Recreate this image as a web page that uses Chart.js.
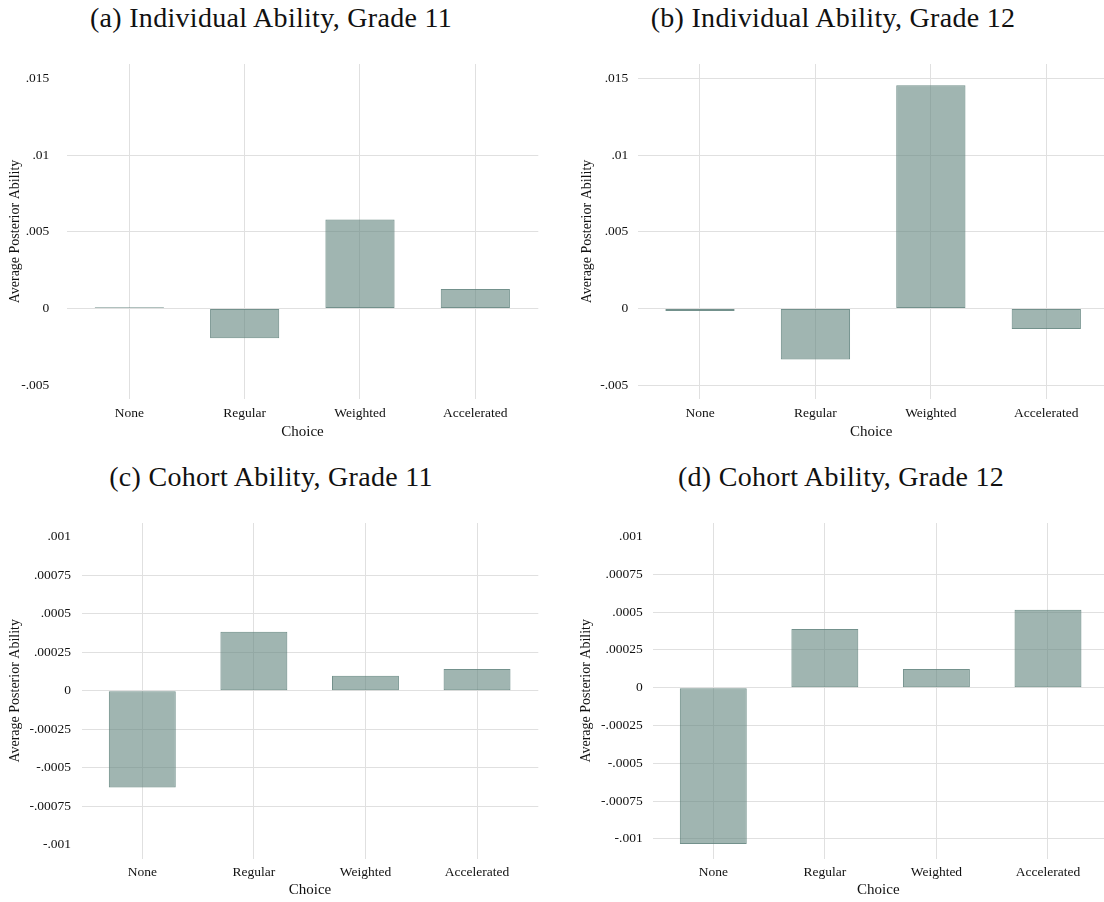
<!DOCTYPE html>
<html>
<head>
<meta charset="utf-8">
<script src="https://cdn.jsdelivr.net/npm/chart.js@4.4.1/dist/chart.umd.min.js"></script>
<style>
  html, body { margin: 0; padding: 0; background: #ffffff; }
  #page { position: relative; width: 1104px; height: 902px; overflow: hidden; background: #ffffff; }
  .panel { position: absolute; }
  .panel canvas { display: block; }
  .ptitle {
    position: absolute;
    font-family: "Liberation Serif", "Times New Roman", serif;
    font-size: 28px;
    line-height: 28px;
    letter-spacing: 0.3px;
    color: #111111;
    white-space: nowrap;
    transform: translateX(-50%);
  }
</style>
</head>
<body>
<div id="page">
  <div class="ptitle" style="left:271px; top:4px;">(a) Individual Ability, Grade 11</div>
  <div class="ptitle" style="left:833px; top:4px;">(b) Individual Ability, Grade 12</div>
  <div class="ptitle" style="left:271px; top:463px;">(c) Cohort Ability, Grade 11</div>
  <div class="ptitle" style="left:841px; top:463px;">(d) Cohort Ability, Grade 12</div>

  <div class="panel" style="left:0px; top:0px;"><canvas id="panelA" width="552" height="450"></canvas></div>
  <div class="panel" style="left:552px; top:0px;"><canvas id="panelB" width="552" height="450"></canvas></div>
  <div class="panel" style="left:0px; top:450px;"><canvas id="panelC" width="552" height="452"></canvas></div>
  <div class="panel" style="left:552px; top:450px;"><canvas id="panelD" width="552" height="452"></canvas></div>
</div>

<script>
// Course choice categories shared by every panel
const choices = ['None', 'Regular', 'Weighted', 'Accelerated'];

// Average posterior individual ability by choice
const individualGrade11 = [0.00008, -0.00194, 0.0058, 0.00126];
const individualGrade12 = [-0.00017, -0.00332, 0.01454, -0.00134];

// Average posterior cohort ability by choice
const cohortGrade11 = [-0.000628, 0.000384, 0.0000975, 0.000141];
const cohortGrade12 = [-0.001033, 0.000388, 0.000124, 0.000516];

// Y-axis tick values and their printed labels
const individualTicks = [-0.005, 0, 0.005, 0.01, 0.015];
const individualTickLabels = ['-.005', '0', '.005', '.01', '.015'];
const cohortTicks = [-0.001, -0.00075, -0.0005, -0.00025, 0, 0.00025, 0.0005, 0.00075, 0.001];
const cohortTickLabels = ['-.001', '-.00075', '-.0005', '-.00025', '0', '.00025', '.0005', '.00075', '.001'];

const SERIF = '"Liberation Serif", "Times New Roman", serif';
const INK = '#111111';
const GRID = '#e0e0e0';
const BAR_FILL = 'rgba(96, 131, 125, 0.60)';
const BAR_EDGE = 'rgba(90, 126, 120, 0.85)';

function drawPanel(id, values, ticks, tickLabels, hiddenGrid, frame) {
  const canvas = document.getElementById(id);
  const W = canvas.width, H = canvas.height;
  return new Chart(canvas, {
    type: 'bar',
    data: {
      datasets: [{
        data: values.map((v, i) => ({ x: i, y: v })),
        backgroundColor: BAR_FILL,
        borderColor: BAR_EDGE,
        borderWidth: 1,
        borderSkipped: false,
        barPercentage: 0.6,
        categoryPercentage: 1.0
      }]
    },
    options: {
      responsive: false,
      animation: false,
      devicePixelRatio: 1,
      layout: { padding: { left: 0, right: W - frame.right, top: frame.top, bottom: 0 } },
      plugins: {
        legend: { display: false },
        tooltip: { enabled: false },
        title: { display: false }
      },
      scales: {
        x: {
          type: 'linear',
          offset: false,
          min: frame.xMin,
          max: frame.xMax,
          afterBuildTicks: (scale) => { scale.ticks = choices.map((_, i) => ({ value: i })); },
          afterFit: (scale) => { scale.height = H - frame.bottom; },
          border: { display: false },
          grid: { color: GRID, lineWidth: 1, drawTicks: false, offset: false },
          ticks: {
            autoSkip: false,
            maxRotation: 0,
            padding: frame.xTickPad,
            color: INK,
            font: { family: SERIF, size: 13.5 },
            callback: (v) => choices[v]
          },
          title: {
            display: true,
            text: 'Choice',
            color: INK,
            font: { family: SERIF, size: 15 },
            padding: { top: 0, bottom: frame.xTitlePad }
          }
        },
        y: {
          min: frame.yMin,
          max: frame.yMax,
          afterBuildTicks: (scale) => { scale.ticks = ticks.map((v) => ({ value: v })); },
          afterFit: (scale) => { scale.width = frame.left; },
          border: { display: false },
          grid: {
            lineWidth: 1,
            drawTicks: false,
            color: (ctx) => (ctx.tick && hiddenGrid.includes(ctx.tick.value)) ? 'rgba(0,0,0,0)' : GRID
          },
          ticks: {
            padding: frame.yTickPad,
            color: INK,
            font: { family: SERIF, size: 13.5 },
            callback: (v) => tickLabels[ticks.indexOf(v)]
          },
          title: {
            display: true,
            text: 'Average Posterior Ability',
            color: INK,
            font: { family: SERIF, size: 14 },
            padding: { top: frame.yTitlePad, bottom: 0 }
          }
        }
      }
    }
  });
}

drawPanel('panelA', individualGrade11, individualTicks, individualTickLabels, [0.015, -0.005], {
  left: 66.7, right: 538.3, top: 64, bottom: 399,
  xMin: -0.543, xMax: 3.546, yMin: -0.0059, yMax: 0.01593,
  yTickPad: 17.4, yTitlePad: 6.6, xTickPad: 6.3, xTitlePad: 8.5
});

drawPanel('panelB', individualGrade12, individualTicks, individualTickLabels, [], {
  left: 86.3, right: 552, top: 64, bottom: 399,
  xMin: -0.5345, xMax: 3.5, yMin: -0.0059, yMax: 0.01593,
  yTickPad: 10, yTitlePad: 26.6, xTickPad: 6.3, xTitlePad: 8.5
});

drawPanel('panelC', cohortGrade11, cohortTicks, cohortTickLabels, [0.001, -0.001], {
  left: 81.7, right: 538.3, top: 73, bottom: 408.6,
  xMin: -0.543, xMax: 3.549, yMin: -0.00109, yMax: 0.00109,
  yTickPad: 10.7, yTitlePad: 6.6, xTickPad: 5.3, xTitlePad: 2.5
});

drawPanel('panelD', cohortGrade12, cohortTicks, cohortTickLabels, [0.001], {
  left: 100.7, right: 552, top: 73, bottom: 408.6,
  xMin: -0.543, xMax: 3.502, yMin: -0.00113, yMax: 0.001089,
  yTickPad: 10, yTitlePad: 25.6, xTickPad: 5.3, xTitlePad: 2.5
});
</script>
</body>
</html>
